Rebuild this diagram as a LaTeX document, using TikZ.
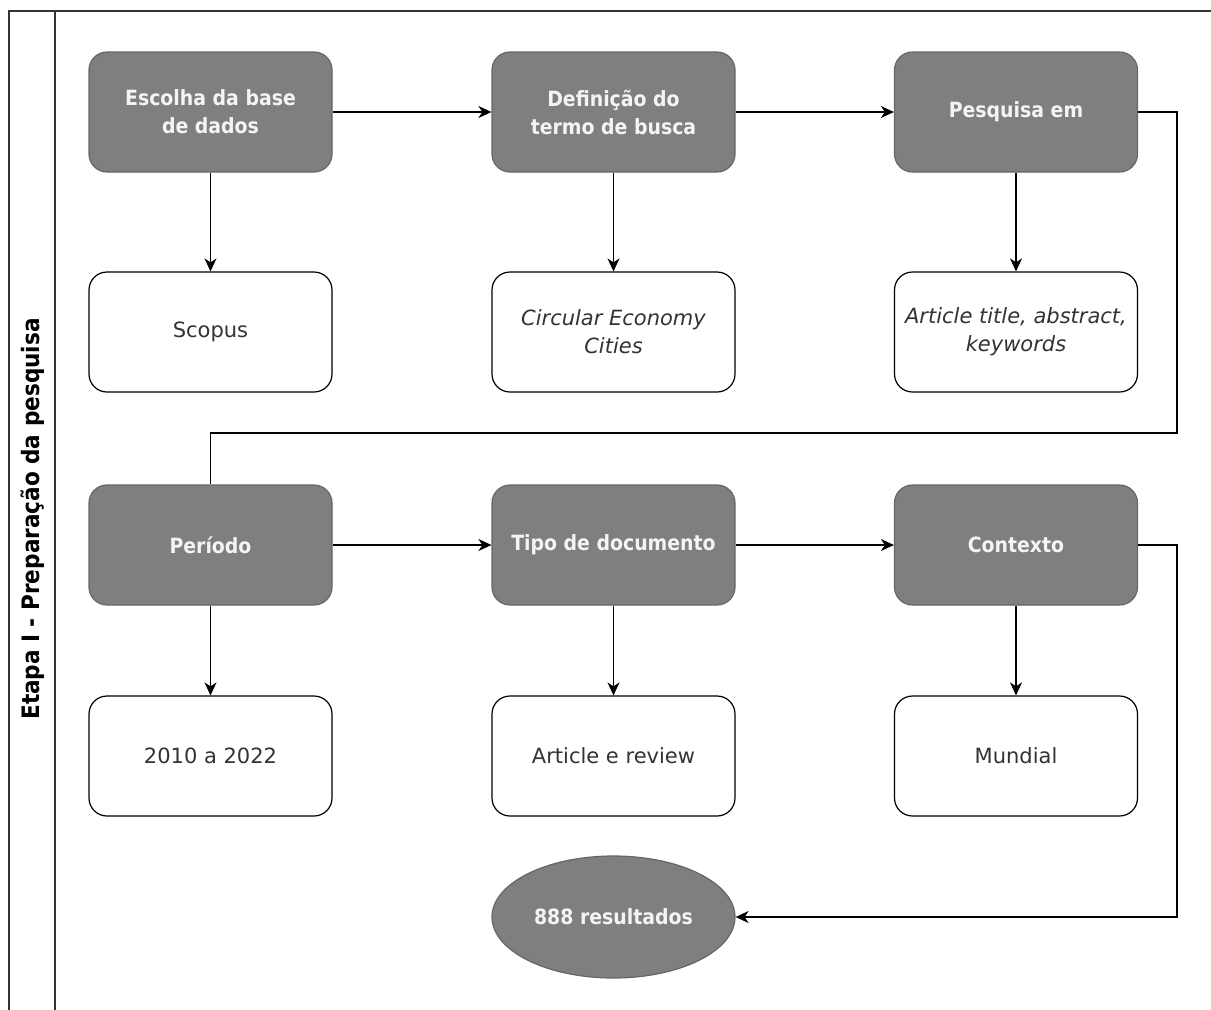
\documentclass[tikz,border=0pt]{standalone}
\usepackage{fontspec}
\setmainfont{DejaVu Sans}
\newfontfamily\boldcond{DejaVu Sans Condensed}
\usetikzlibrary{arrows.meta,shapes.geometric}
\definecolor{boxgray}{HTML}{7F7F7F}
\definecolor{boxedge}{HTML}{666666}
\definecolor{softwhite}{HTML}{F4F4F4}
\definecolor{textgray}{HTML}{333333}
\begin{document}
\begin{tikzpicture}[x=1pt,y=-1pt,
  box/.style={rounded corners=18pt, minimum width=243pt, minimum height=120pt,
              align=center, line width=1.2pt, inner sep=0pt},
  dark/.style={box, draw=boxedge, fill=boxgray, text=softwhite,
               font=\boldcond\bfseries\fontsize{21}{28}\selectfont},
  light/.style={box, draw=black, fill=white, text=textgray,
                font=\fontsize{21}{28}\selectfont},
  result/.style={ellipse, minimum width=243pt, minimum height=122pt, inner sep=0pt,
                 draw=boxedge, fill=boxgray, text=softwhite, line width=1.2pt,
                 font=\boldcond\bfseries\fontsize{21}{28}\selectfont},
  link/.style={line width=1.3pt, draw=black},
  flow/.style={link, -{Stealth[length=13pt,width=12pt,inset=4pt]}},
  frame/.style={line width=1.4pt, draw=black!80}
]
\useasboundingbox (0,0) rectangle (1211,1010);

% swimlane frame
\draw[frame] (9,1010) -- (9,11) -- (1211,11);
\draw[frame] (55,11) -- (55,1010);
\node[rotate=90, text=black, font=\boldcond\bfseries\fontsize{24}{28}\selectfont] (lane) at (33,519)
  {Etapa I - Preparação da pesquisa};

% first block of steps
\node[dark]  (a1) at (210.5,112) {Escolha da base\\de dados};
\node[dark]  (a2) at (613.5,112) {Definição do\\termo de busca};
\node[dark]  (a3) at (1016,112)  {Pesquisa em};
\node[light] (b1) at (210.5,332) {Scopus};
\node[light] (b2) at (613.5,332) {\itshape Circular Economy\\\itshape Cities};
\node[light] (b3) at (1016,332)  {\itshape Article title, abstract,\\\itshape keywords};

% second block of steps
\node[dark]  (c1) at (210.5,545) {Período};
\node[dark]  (c2) at (613.5,545) {Tipo de documento};
\node[dark]  (c3) at (1016,545)  {Contexto};
\node[light] (d1) at (210.5,756) {2010 a 2022};
\node[light] (d2) at (613.5,756) {Article e review};
\node[light] (d3) at (1016,756)  {Mundial};

\node[result] (res) at (613.5,917) {888 resultados};

% connectors
\draw[flow] (a1) -- (a2);
\draw[flow] (a2) -- (a3);
\draw[flow] (a1) -- (b1);
\draw[flow] (a2) -- (b2);
\draw[flow] (a3) -- (b3);

\coordinate (turnA) at (1177,433);
\draw[link] (a3.east) -| (turnA) -| (c1.north);

\draw[flow] (c1) -- (c2);
\draw[flow] (c2) -- (c3);
\draw[flow] (c1) -- (d1);
\draw[flow] (c2) -- (d2);
\draw[flow] (c3) -- (d3);

\coordinate (turnB) at (1177,917);
\draw[flow] (c3.east) -| (turnB) -- (res.east);
\end{tikzpicture}
\end{document}
